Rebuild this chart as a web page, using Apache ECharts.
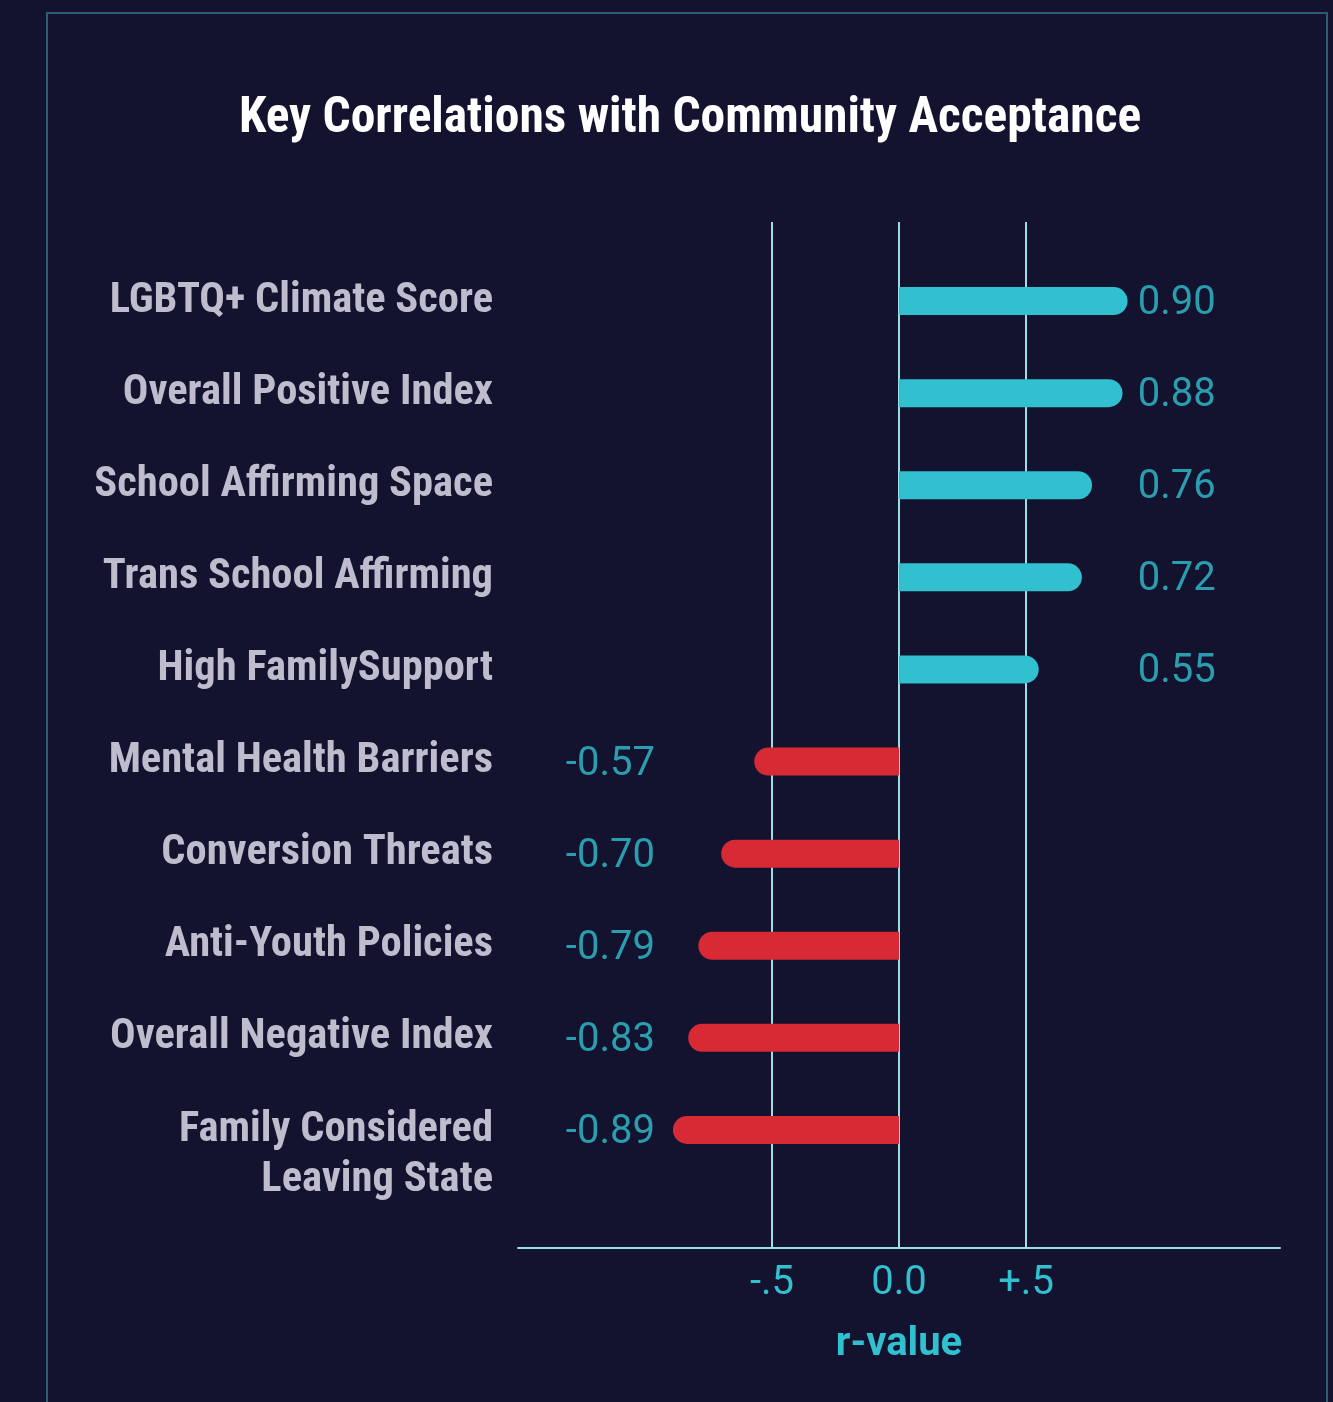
<!DOCTYPE html>
<html><head><meta charset="utf-8">
<style>html,body{margin:0;padding:0;background:#13122f;}#c{width:1333px;height:1402px;}</style>
<script src="https://cdn.jsdelivr.net/npm/echarts@6/dist/echarts.min.js"></script>
</head><body><div id="c"></div>
<script>
const categories = ['LGBTQ+ Climate Score','Overall Positive Index','School Affirming Space','Trans School Affirming','High FamilySupport','Mental Health Barriers','Conversion Threats','Anti-Youth Policies','Overall Negative Index','Family Considered\nLeaving State'];
const rValues = [0.90, 0.88, 0.76, 0.72, 0.55, -0.57, -0.70, -0.79, -0.83, -0.89];
const tickLabels = {'-0.5':'-.5','0':'0.0','0.5':'+.5'};

const TEAL='#31c0d0', RED='#d72a35', GRIDC='#9bdce6', LABC='#bfbccd';
const condensed = "'Roboto Condensed','DejaVu Sans Condensed',sans-serif";
const chart = echarts.init(document.getElementById('c'), null, {renderer:'canvas'});

const barData = rValues.map(v => ({
  value: v,
  itemStyle: { color: v >= 0 ? TEAL : RED, borderRadius: v >= 0 ? [0,14,14,0] : [14,0,0,14] }
}));
const labelData = rValues.map((v,i) => ({
  value: [v >= 0 ? 0.94 : -0.961, categories[i], v],
  label: { position: v >= 0 ? 'right' : 'left' }
}));

chart.setOption({
  backgroundColor:'#13122f',
  animation:false,
  graphic:[
    {type:'rect', shape:{x:47,y:13,width:1280,height:1420}, style:{fill:'none',stroke:'#2b5d73',lineWidth:2}},
    {type:'text', x:690, y:120, style:{text:'Key Correlations with Community Acceptance', fill:'#ffffff', font:"bold 49.5px "+condensed, textAlign:'center', textVerticalAlign:'middle'}}
  ],
  grid:[
    {left:518, width:762, top:255, height:921},
    {left:518, width:762, top:222, height:1026}
  ],
  xAxis:[
    {gridIndex:0, type:'value', min:-1.5, max:1.5, show:false},
    {gridIndex:1, type:'value', min:-1.5, max:1.5, interval:0.5,
      axisLine:{show:true, lineStyle:{color:GRIDC, width:2}},
      axisTick:{show:false},
      splitLine:{show:true, lineStyle:{width:2, color:['rgba(0,0,0,0)','rgba(0,0,0,0)',GRIDC,GRIDC,GRIDC,'rgba(0,0,0,0)','rgba(0,0,0,0)']}},
      axisLabel:{margin:16, color:TEAL, fontSize:40, fontFamily:'Roboto', formatter: v => tickLabels[String(v)] || ''},
      name:'r-value', nameLocation:'middle', nameGap:77,
      nameTextStyle:{color:TEAL, fontSize:40, fontWeight:'bold', fontFamily:'Roboto'}
    }
  ],
  yAxis:[
    {gridIndex:0, type:'category', inverse:true, data:categories,
      axisLine:{show:false}, axisTick:{show:false}, splitLine:{show:false},
      axisLabel:{interval:0, margin:25, color:LABC, fontSize:42.5, fontWeight:'bold', fontFamily:condensed, lineHeight:50,
        padding:[7,0,0,0],
        formatter: v => v.indexOf('\n') >= 0 ? ' \n' + v : v}},
    {gridIndex:1, type:'value', show:false, min:0, max:1}
  ],
  series:[
    {type:'bar', xAxisIndex:0, yAxisIndex:0, data:barData, barWidth:28},
    {type:'scatter', xAxisIndex:0, yAxisIndex:0, data:labelData, symbolSize:0,
      label:{show:true, distance:0, offset:[0,3], color:TEAL, fontSize:40, fontFamily:'Roboto', formatter: p => p.value[2].toFixed(2)}}
  ]
});
</script></body></html>
